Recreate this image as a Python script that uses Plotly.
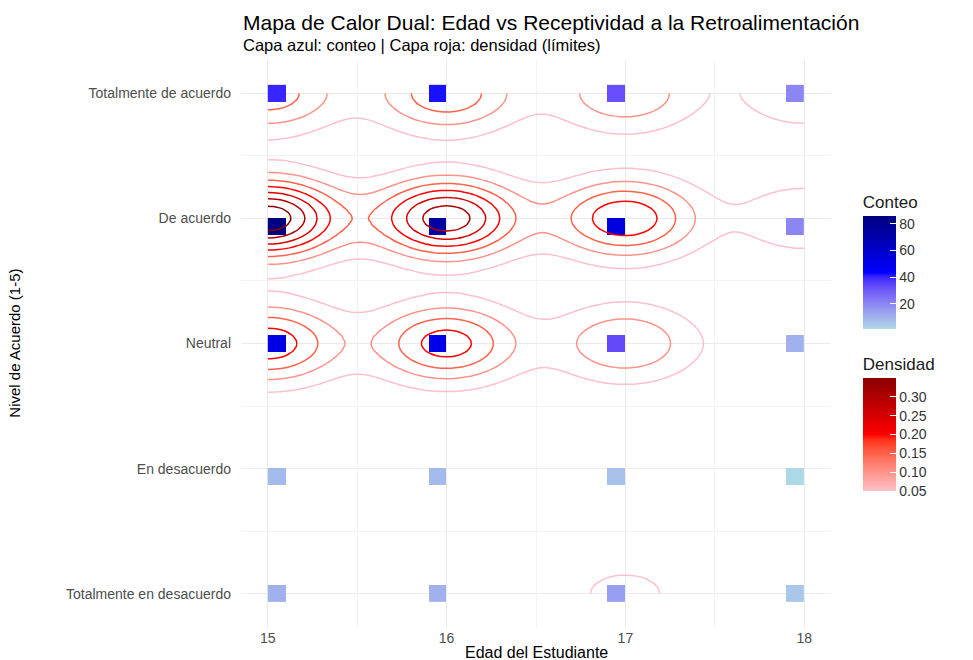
import math
import numpy as np
import plotly.graph_objects as go

# ---------------- data ----------------
edades = [15, 16, 17, 18]
niveles = [1, 2, 3, 4, 5]
etiquetas_nivel = ["Totalmente en desacuerdo", "En desacuerdo", "Neutral",
                   "De acuerdo", "Totalmente de acuerdo"]
# counts per age (15, 16, 17, 18) for each agreement level
conteo_totalmente_en_desacuerdo = [10, 10, 14, 5]
conteo_en_desacuerdo = [8, 8, 6, 1]
conteo_neutral = [52, 50, 33, 10]
conteo_de_acuerdo = [86, 74, 54, 20]
conteo_totalmente_de_acuerdo = [40, 42, 32, 20]

conteos = [conteo_totalmente_en_desacuerdo, conteo_en_desacuerdo, conteo_neutral,
           conteo_de_acuerdo, conteo_totalmente_de_acuerdo]

# ---------------- colour helpers (CIELAB interpolation like ggplot) ----------------
def _hex_rgb(h):
    h = h.lstrip('#')
    return [int(h[i:i + 2], 16) / 255 for i in (0, 2, 4)]

def _to_lab(h):
    rgb = [c / 12.92 if c <= 0.04045 else ((c + 0.055) / 1.055) ** 2.4 for c in _hex_rgb(h)]
    M = [[0.4124564, 0.3575761, 0.1804375], [0.2126729, 0.7151522, 0.0721750],
         [0.0193339, 0.1191920, 0.9503041]]
    xyz = [sum(M[i][j] * rgb[j] for j in range(3)) for i in range(3)]
    wp = [0.95047, 1.0, 1.08883]
    f = [(t / w) ** (1 / 3) if t / w > 0.008856 else 7.787 * t / w + 16 / 116 for t, w in zip(xyz, wp)]
    return [116 * f[1] - 16, 500 * (f[0] - f[1]), 200 * (f[1] - f[2])]

def _from_lab(lab):
    L, a, b = lab
    fy = (L + 16) / 116
    fx = fy + a / 500
    fz = fy - b / 200
    wp = [0.95047, 1.0, 1.08883]
    xyz = []
    for fv, w in zip([fx, fy, fz], wp):
        t = fv ** 3 if fv ** 3 > 0.008856 else (fv - 16 / 116) / 7.787
        xyz.append(t * w)
    Mi = [[3.2404542, -1.5371385, -0.4985314], [-0.9692660, 1.8760108, 0.0415560],
          [0.0556434, -0.2040259, 1.0572252]]
    lin = [sum(Mi[i][j] * xyz[j] for j in range(3)) for i in range(3)]
    out = []
    for c in lin:
        c = 12.92 * c if c <= 0.0031308 else 1.055 * c ** (1 / 2.4) - 0.055
        out.append(int(round(min(max(c, 0), 1) * 255)))
    return 'rgb(%d,%d,%d)' % tuple(out)

def lab_scale(colors, n=25):
    labs = [_to_lab(c) for c in colors]
    seg = len(colors) - 1
    scale = []
    for k in range(n):
        t = k / (n - 1)
        i = min(int(t * seg), seg - 1)
        u = t * seg - i
        lab = [labs[i][d] + (labs[i + 1][d] - labs[i][d]) * u for d in range(3)]
        scale.append([t, _from_lab(lab)])
    return scale

escala_conteo = lab_scale(["#ADD8E6", "#0000FF", "#000080"])
escala_densidad = lab_scale(["#FFC0CB", "#FF0000", "#8B0000"])

# ---------------- 2d binning (30 bins, like geom_bin2d) ----------------
n_bins = 30
xs = np.repeat([edades], len(niveles), axis=0).ravel().astype(float)
ys = np.repeat(niveles, len(edades)).astype(float)
ws = np.array(conteos, dtype=float).ravel()

def bins(vals):
    lo, hi = vals.min(), vals.max()
    bw = (hi - lo) / n_bins
    origin = math.floor(round(lo / bw, 6)) * bw
    idx = np.maximum(np.ceil(np.round((vals - origin) / bw, 6)) - 1, 0).astype(int)
    nb = idx.max() + 1
    centers = origin + (np.arange(nb) + 0.5) * bw
    return idx, centers, origin, origin + nb * bw

ix, xc, x_lo, x_hi = bins(xs)
iy, yc, y_lo, y_hi = bins(ys)
zgrid = [[None] * len(xc) for _ in range(len(yc))]
for a, b, w in zip(ix, iy, ws):
    zgrid[b][a] = w

# ---------------- 2d kernel density (weighted) ----------------
bw_x, bw_y = 0.28, 0.22
gx = np.linspace(xs.min(), xs.max(), 100)
gy = np.linspace(ys.min(), ys.max(), 100)
wn = ws / ws.sum()
kx = np.exp(-0.5 * ((gx[None, :] - xs[:, None]) / bw_x) ** 2) / (bw_x * math.sqrt(2 * math.pi))
ky = np.exp(-0.5 * ((gy[None, :] - ys[:, None]) / bw_y) ** 2) / (bw_y * math.sqrt(2 * math.pi))
dens = np.einsum('i,iy,ix->yx', wn, ky, kx)
paso = 0.05
niveles_dens = np.arange(paso, dens.max(), paso)
d_lo, d_hi = float(niveles_dens[0]), float(niveles_dens[-1])

# ---------------- figure ----------------
FONT = "Liberation Sans, Arial, sans-serif"
fig = go.Figure()

def barra(titulo, y0, **kw):
    return dict(title=dict(text=titulo, side="top", font=dict(size=17, color="#1a1a1a", family=FONT)),
                thickness=33, len=157, lenmode="pixels", x=1.037, xanchor="left",
                y=y0, yanchor="bottom", ticks="inside", tickcolor="white", ticklen=6,
                outlinewidth=0, tickfont=dict(size=14, color="#333333", family=FONT), **kw)

fig.add_trace(go.Heatmap(
    x=xc, y=yc, z=zgrid, colorscale=escala_conteo,
    zmin=float(ws.min()), zmax=float(ws.max()), hoverongaps=False,
    colorbar=barra("Conteo", 0.508, tickvals=[20, 40, 60, 80]),
))

fig.add_trace(go.Contour(
    x=gx, y=gy, z=dens, colorscale=escala_densidad, zmin=d_lo, zmax=d_hi,
    contours=dict(start=d_lo, end=d_hi, size=paso, coloring="lines"),
    line=dict(width=1.5), showscale=False, hoverinfo="skip",
))

fig.add_trace(go.Scatter(
    x=[None, None], y=[None, None], mode="markers", showlegend=False, hoverinfo="skip",
    marker=dict(color=[d_lo, d_hi], colorscale=escala_densidad, cmin=d_lo, cmax=d_hi, showscale=True,
                colorbar=barra("Densidad", 0.2232, tickvals=list(niveles_dens[:-1]), tickformat=".2f")),
))

xpad = 0.05 * (x_hi - x_lo)
ypad = 0.05 * (y_hi - y_lo)
menores_x = [(a + b) / 2 for a, b in zip(edades[:-1], edades[1:])]
menores_y = [(a + b) / 2 for a, b in zip(niveles[:-1], niveles[1:])]

fig.update_layout(
    width=973, height=660,
    margin=dict(l=241, r=142, t=59, b=32),
    plot_bgcolor="white", paper_bgcolor="white",
    font=dict(family=FONT, color="#4D4D4D"),
    showlegend=False,
    xaxis=dict(range=[x_lo - xpad, x_hi + xpad], tickvals=edades, ticktext=[str(e) for e in edades],
               showgrid=True, gridcolor="#EBEBEB", gridwidth=1.2, zeroline=False, showline=False,
               tickfont=dict(size=14, color="#4D4D4D"), ticks="",
               minor=dict(tickvals=menores_x, showgrid=True, gridcolor="#F3F3F3", gridwidth=1)),
    yaxis=dict(range=[y_lo - ypad, y_hi + ypad], tickvals=niveles, ticktext=etiquetas_nivel,
               showgrid=True, gridcolor="#EBEBEB", gridwidth=1.2, zeroline=False, showline=False,
               tickfont=dict(size=14, color="#4D4D4D"), ticks="", ticklabelstandoff=9,
               minor=dict(tickvals=menores_y, showgrid=True, gridcolor="#F3F3F3", gridwidth=1)),
    annotations=[
        dict(text="Mapa de Calor Dual: Edad vs Receptividad a la Retroalimentación",
             xref="paper", yref="paper", x=0, y=1.065, xanchor="left", yanchor="middle",
             showarrow=False, font=dict(size=21, color="#000000", family=FONT)),
        dict(text="Capa azul: conteo | Capa roja: densidad (límites)",
             xref="paper", yref="paper", x=0, y=1.0246, xanchor="left", yanchor="middle",
             showarrow=False, font=dict(size=16.5, color="#000000", family=FONT)),
        dict(text="Edad del Estudiante", xref="paper", yref="paper", x=0.5, y=-0.0425,
             xanchor="center", yanchor="middle", showarrow=False,
             font=dict(size=16, color="#000000", family=FONT)),
        dict(text="Nivel de Acuerdo (1-5)", xref="paper", yref="paper", x=-0.3844, y=0.5,
             xanchor="center", yanchor="middle", textangle=-90, showarrow=False,
             font=dict(size=15, color="#000000", family=FONT)),
    ],
)

fig.write_html("out.html", config={"displayModeBar": False},
               post_script="document.body.style.margin='0px';")
